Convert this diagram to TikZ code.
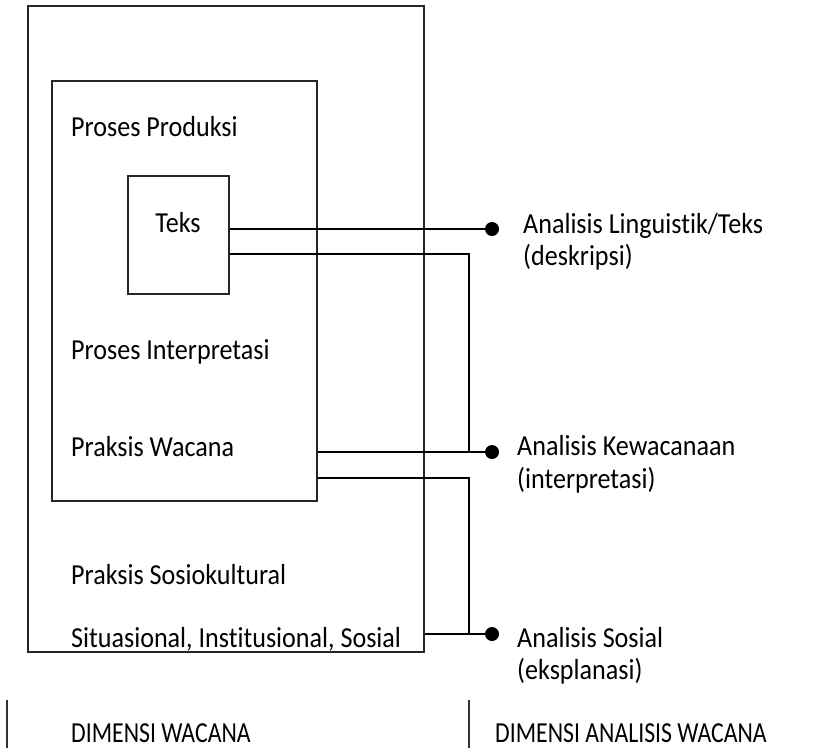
\documentclass[tikz,border=0pt]{standalone}
\usepackage{fontspec}
\setmainfont[FakeStretch=0.9,Ligatures={NoCommon}]{Carlito}
\newfontfamily\headfont[FakeStretch=0.82,Ligatures={NoCommon}]{Carlito}
\begin{document}
\begin{tikzpicture}[x=1pt,y=-1pt,
  frame/.style={draw=black!85,line width=1.6pt,inner sep=0pt,anchor=north west},
  link/.style={draw=black,line width=2.2pt},
  tick/.style={draw=black!80,line width=1.4pt},
  dot/.style={circle,fill=black,inner sep=0pt,minimum size=14pt},
  lbl/.style={inner sep=0pt,anchor=base west,font=\fontsize{29}{35}\selectfont},
  head/.style={lbl,text depth=0pt,font=\fontsize{29}{35}\headfont}]
% canvas
\fill[white] (0,0) rectangle (834,748);
\useasboundingbox (0,0) rectangle (834,748);

% nested boxes
\node[frame,minimum width=396pt,minimum height=646pt] (outer) at (27,5) {};
\node[frame,minimum width=265pt,minimum height=420pt] (inner) at (51,80) {};
\node[frame,minimum width=101pt,minimum height=118pt] (teksbox) at (127,175) {};

% texts inside the boxes
\node[lbl] (prod) at (71,136) {Proses Produksi};
\node[lbl,anchor=base] (teks) at (178,232) {Teks};
\node[lbl] (interp) at (71,359) {Proses Interpretasi};
\node[lbl] (praksis) at (71,456) {Praksis Wacana};
\node[lbl] (sosio) at (71,584) {Praksis Sosiokultural};
\node[lbl] (situ) at (71,647) {Situasional, Institusional, Sosial};

% end points of the connectors
\node[dot] (d1) at (492,229) {};
\node[dot] (d2) at (492,452) {};
\node[dot] (d3) at (492,634) {};
\coordinate (j1) at (469,254);
\coordinate (j2) at (469,478);

% connectors
\draw[link] (teksbox.east |- d1) -- (d1);
\draw[link] (teksbox.east |- j1) -- (j1) -- (j1 |- d2);
\draw[link] (inner.east |- d2) -- (d2);
\draw[link] (inner.east |- j2) -- (j2) -- (j2 |- d3);
\draw[link] (outer.east |- d3) -- (d3);

% analysis labels
\node[lbl] (a1) at (523,233) {Analisis Linguistik/Teks};
\node[lbl] (a1b) at (523,265) {(deskripsi)};
\node[lbl] (a2) at (517,455) {Analisis Kewacanaan};
\node[lbl] (a2b) at (517,488) {(interpretasi)};
\node[lbl] (a3) at (517,647) {Analisis Sosial};
\node[lbl] (a3b) at (517,679) {(eksplanasi)};

% column markers and headings
\coordinate (tk1) at (7,700);
\coordinate (tk2) at (469,700);
\draw[tick] (tk1) -- (tk1 |- 0,748);
\draw[tick] (tk2) -- (tk2 |- 0,748);
\node[head] (dimA) at (71,742) {DIMENSI WACANA};
\node[head] (dimB) at (495,742) {DIMENSI ANALISIS WACANA};
\end{tikzpicture}
\end{document}
